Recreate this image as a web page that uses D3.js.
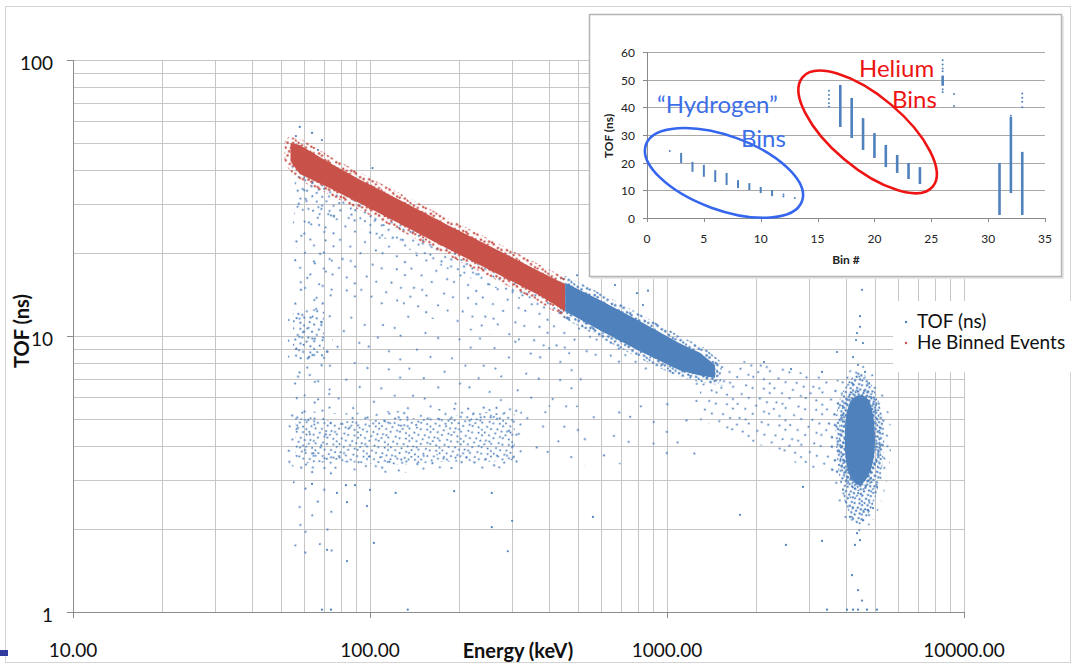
<!DOCTYPE html>
<html>
<head>
<meta charset="utf-8">
<script src="https://cdn.jsdelivr.net/npm/d3@7"></script>
<style>
  html, body { margin: 0; padding: 0; background: #fff; }
  svg { display: block; font-family: Lato, "Open Sans", sans-serif; }
</style>
</head>
<body>
<script>
// ---------- values ----------
// main chart: Energy (keV) vs TOF (ns), log/log
const energyTicks = [10, 100, 1000, 10000];
const tofTicks = [1, 10, 100];

// He-binned band (red): energy, upper and lower TOF edge
const heE = [54, 58, 73, 92, 126, 186, 274, 374, 454];
const heTop = [50, 49.2, 42.4, 37, 31.1, 25, 20.3, 17.1, 15.4];
const heBottom = [43, 38.6, 34.4, 30.3, 25.5, 20.5, 16.6, 14, 12.3];

// same band above the He cut (blue)
const hiE = [454, 594, 811, 1106, 1291, 1451];
const hiTop = [15.6, 13.5, 11.3, 9.4, 8.7, 7.85];
const hiBottom = [12.3, 10.5, 8.8, 7.5, 7.2, 7.05];

// scatter fan below the band
const fanMidE = [58, 86, 126, 186, 274, 454, 877, 1507];
const fanMidT = [28.6, 25.3, 21.4, 17.3, 14.7, 11.4, 8.5, 6.9];
const fanLowE = [58, 86, 126, 186, 274, 404, 594, 877, 1291, 1630];
const fanLowT = [13.5, 13.5, 12.2, 11.2, 9.9, 8.9, 8.05, 7.2, 6.6, 6.6];

// thin scatter between fan and the 4 ns band
const gapE = [56, 130, 300, 520];
const gapTop = [13.5, 12, 9.9, 8.5];
const gapBottom = [5, 5, 5.2, 5.3];

// low-energy column and the 10 ns clump in it
const colE = [55, 75];
const colTop = [40, 40];
const colBottom = [1.6, 1.6];
const tenE = [55, 70];
const tenTop = [12.5, 12.5];
const tenBottom = [8.2, 8.2];

// 4 ns band, 56 - 307 keV
const lowE = [56, 60, 80, 120, 180, 250, 307];
const lowTop = [5.1, 5.0, 4.9, 5.0, 5.1, 5.3, 5.2];
const lowBottom = [3.6, 3.45, 3.5, 3.4, 3.5, 3.5, 3.55];

// sparse continuation of the 4 ns band
const lowTailE = [307, 600, 1000, 1291];
const lowTailTop = [5.6, 5.6, 5.9, 6.3];
const lowTailBottom = [3.3, 3.4, 3.5, 3.6];

// tail from the band toward the high-energy blob
const tailE = [1291, 2056, 2805, 3822];
const tailTop = [7.85, 8.2, 7.4, 6.9];
const tailBottom = [4.96, 4.03, 3.41, 3.14];

// blob near 4.4 MeV (outline, clockwise)
const blobCoreE = [4467, 4751, 4939, 5015, 4939, 4713, 4432, 4164, 4005, 3972, 4036, 4196];
const blobCoreT = [6.1, 5.9, 5.2, 4.2, 3.5, 3.06, 2.88, 3.06, 3.55, 4.4, 5.3, 5.9];
const blobOuterE = [4467, 4898, 5296, 5378, 5131, 4751, 4397, 4068, 3822, 3707, 3737, 4005];
const blobOuterT = [7.4, 6.6, 5.2, 3.9, 2.8, 2.25, 2.07, 2.34, 3.0, 4.0, 5.4, 6.6];

// single stray events
const strayE = [58, 63.8, 68.9, 102, 56.3, 66.8, 71.7, 83.7, 103, 97.7, 122, 257, 291, 257, 301, 563,
  192, 89, 83, 77.4, 63.8, 83.7, 100, 68.9, 73.9, 134, 3457, 4036, 4230, 4397, 4713, 5094,
  4467, 4467, 4363, 4329, 4571, 3737, 4230, 3326, 4397, 4642, 2121, 2616, 2871, 2515, 3326,
  4363, 4467, 4295, 4130, 4571, 4751, 4939, 4536, 4196, 4397, 4536, 1761, 498, 668, 792, 863, 830];
const strayT = [57.2, 54.4, 51.3, 40.6, 53, 47.2, 1.68, 1.53, 1.78, 2.42, 2.7, 2.03, 1.66, 2.7, 2.14, 2.21,
  2.74, 2.88, 2.88, 2.7, 2.91, 2.5, 2.77, 1.02, 1.02, 1.02, 1.02, 1.02, 1.02, 1.02, 1.02, 1.02,
  11.8, 10.8, 10.25, 9.67, 9.43, 8.75, 8.39, 7.41, 7.85, 7.41, 8.05, 7.59, 2.84, 1.75, 1.81,
  1.93, 1.82, 1.75, 2.21, 2.15, 2.34, 2.38, 14.7, 1.36, 1.2, 1.1, 2.25, 16.6, 15.3, 14.3, 14.6, 12.95];

// inset: TOF per bin
const binNo = [3, 4, 5, 6, 7, 8, 9, 10, 11, 17, 18, 19, 20, 21, 22, 23, 24, 26, 31, 32, 33];
const binLo = [19.9, 16.7, 14.9, 13.0, 11.9, 10.8, 10.1, 9.0, 7.9, 32.9, 28.9, 24.6, 21.7, 18.4, 16.3, 14.1, 12.3, 47.8, 1.1, 9.0, 1.1];
const binHi = [23.5, 20.3, 19.2, 17.3, 16.3, 13.7, 12.6, 11.2, 10.1, 48.1, 43.4, 36.1, 30.7, 26.4, 22.8, 19.9, 18.4, 51.5, 19.9, 36.5, 23.9];
const dotBin = [2, 12, 12, 13, 16, 16, 16, 16, 16, 26, 26, 26, 26, 26, 26, 27, 27, 33, 33, 33, 33, 32];
const dotT = [24.2, 8.5, 7.8, 7.2, 46, 44.5, 43, 41.5, 40.2, 57, 55.5, 54, 53, 46.5, 45.5, 44.8, 40.5, 45, 43.5, 42, 40, 37];
const insetXTicks = [0, 5, 10, 15, 20, 25, 30, 35];
const insetYTicks = [0, 10, 20, 30, 40, 50, 60];

// ---------- drawing ----------
const BLUE = "#4f81bd";
const RED = "#c8524a";
const GRID = "#c6c6c6";
const AXIS = "#8c8c8c";

const svg = d3.select("body").append("svg").attr("width", 1076).attr("height", 664);
const defs = svg.append("defs");

const x = d3.scaleLog().domain([10, 10000]).range([73, 964]);
const y = d3.scaleLog().domain([1, 100]).range([612, 60]);
const px = (v) => Math.round(v) + 0.5;

// speckle tiles to stand in for thousands of overlapping markers
const speck = [[3, 2], [13, 5], [21, 1], [28, 6], [7, 10], [17, 9], [25, 13], [31, 11], [1, 16], [11, 15],
  [19, 19], [28, 18], [5, 22], [14, 23], [23, 24], [30, 27], [9, 28], [18, 30], [26, 31], [2, 30]];
const pattern = (id, color, s, r = 1.05) => {
  const p = defs.append("pattern").attr("id", id)
    .attr("patternUnits", "userSpaceOnUse")
    .attr("width", 32 * s).attr("height", 32 * s)
    .attr("patternTransform", "rotate(-23)");
  p.selectAll("circle").data(speck).join("circle")
    .attr("cx", (d) => d[0] * s).attr("cy", (d) => d[1] * s)
    .attr("r", r).attr("fill", color);
};
pattern("redFringe", RED, 0.62, 1.25);
pattern("blueDense", BLUE, 0.62, 1.25);
pattern("blueBlob", BLUE, 0.55, 1.15);
pattern("blueTen", BLUE, 0.8);
pattern("blueLow", BLUE, 0.72);
pattern("blueLowEdge", BLUE, 1.3);
pattern("blueMid", BLUE, 1.15);
pattern("blueFan", BLUE, 1.7);
pattern("blueTail", BLUE, 1.25);
pattern("blueGap", BLUE, 2.4);
pattern("blueCol", BLUE, 2.1);
pattern("blueSparse", BLUE, 2.8);

defs.append("clipPath").attr("id", "heClip").append("rect")
  .attr("x", 0).attr("y", 0).attr("width", x(heE[heE.length - 1])).attr("height", 664);

// frame of the slide
svg.append("rect").attr("x", 5.5).attr("y", 6.5).attr("width", 1065).attr("height", 656)
  .attr("fill", "none").attr("stroke", "#d4d4d4");
svg.append("rect").attr("x", 0).attr("y", 650).attr("width", 8).attr("height", 6).attr("fill", "#2f3a9e");

// grid
const grid = svg.append("g");
grid.selectAll(".gx").data(x.ticks()).join("line").attr("class", "gx")
  .attr("x1", (d) => px(x(d))).attr("x2", (d) => px(x(d)))
  .attr("y1", y(100)).attr("y2", y(1))
  .attr("stroke", GRID);
grid.selectAll(".gy").data(y.ticks()).join("line").attr("class", "gy")
  .attr("x1", x(10)).attr("x2", x(10000))
  .attr("y1", (d) => px(y(d))).attr("y2", (d) => px(y(d)))
  .attr("stroke", GRID);

// data regions
const zip3 = (a, b, c) => a.map((e, i) => [e, b[i], c[i]]);
const band = d3.area().x((d) => x(d[0])).y0((d) => y(d[1])).y1((d) => y(d[2]));
const poly = d3.line().x((d) => x(d[0])).y((d) => y(d[1]));
const blobLine = d3.line().x((d) => x(d[0])).y((d) => y(d[1])).curve(d3.curveCatmullRomClosed);

const marks = svg.append("g");
const region = (d, fill, stroke, sw) => marks.append("path").attr("d", d)
  .attr("fill", fill).attr("stroke", stroke || "none").attr("stroke-width", sw || 0)
  .attr("stroke-linejoin", "round");

const bandUnder = heE.map((e, i) => [e, heBottom[i]])
  .concat(hiE.slice(1).map((e, i) => [e, hiBottom[i + 1]]));
const fanPoly = bandUnder.concat(fanLowE.map((e, i) => [e, fanLowT[i]]).reverse());
const midPoly = bandUnder.concat(fanMidE.map((e, i) => [e, fanMidT[i]]).reverse());

region(band(zip3(gapE, gapTop, gapBottom)), "url(#blueGap)");
region(band(zip3(colE, colTop, colBottom)), "url(#blueCol)");
region(band(zip3(lowTailE, lowTailTop, lowTailBottom)), "url(#blueSparse)");
region(poly(fanPoly) + "Z", "url(#blueFan)");
region(poly(midPoly) + "Z", "url(#blueMid)");
region(band(zip3(tailE, tailTop, tailBottom)), "url(#blueTail)");
region(band(zip3(lowE, lowTop, lowBottom)), "url(#blueLow)", "url(#blueLowEdge)", 16);
region(band(zip3(tenE, tenTop, tenBottom)), "url(#blueTen)", "url(#blueCol)", 10);
region(blobLine(blobOuterE.map((e, i) => [e, blobOuterT[i]])), "url(#blueBlob)", "url(#blueTail)", 14);
region(band(zip3(hiE, hiTop, hiBottom)), BLUE, "url(#blueDense)", 13);
region(blobLine(blobCoreE.map((e, i) => [e, blobCoreT[i]])), BLUE, "url(#blueDense)", 12);

marks.selectAll(".stray").data(strayE.map((e, i) => [e, strayT[i]])).join("circle")
  .attr("class", "stray")
  .attr("cx", (d) => x(d[0])).attr("cy", (d) => y(d[1])).attr("r", 1.1).attr("fill", BLUE);

region(band(zip3(heE, heTop, heBottom)), RED, "url(#redFringe)", 12)
  .attr("clip-path", "url(#heClip)");

// axes
const axes = svg.append("g").attr("stroke", AXIS).attr("stroke-width", 1);
axes.append("line").attr("x1", px(x(10))).attr("x2", px(x(10)))
  .attr("y1", y(100)).attr("y2", y(1) + 1);
axes.append("line").attr("x1", x(10) - 6).attr("x2", x(10000))
  .attr("y1", px(y(1))).attr("y2", px(y(1)));
axes.selectAll(".ty").data(tofTicks).join("line")
  .attr("x1", x(10) - 6).attr("x2", x(10))
  .attr("y1", (d) => px(y(d))).attr("y2", (d) => px(y(d)));
axes.selectAll(".tx").data(energyTicks).join("line")
  .attr("x1", (d) => px(x(d))).attr("x2", (d) => px(x(d)))
  .attr("y1", y(1)).attr("y2", y(1) + 6);

const labels = svg.append("g").attr("fill", "#111").attr("font-size", 19);
labels.selectAll(".ly").data(tofTicks).join("text")
  .attr("x", 53).attr("y", (d) => y(d) + 10).attr("text-anchor", "end")
  .text((d) => d);
labels.selectAll(".lx").data(energyTicks).join("text")
  .attr("x", (d) => x(d)).attr("y", 657).attr("text-anchor", "middle")
  .text(d3.format(".2f"));
svg.append("text").attr("x", 518).attr("y", 658).attr("text-anchor", "middle")
  .attr("font-size", 20).attr("font-weight", "bold").attr("fill", "#111")
  .text("Energy (keV)");
svg.append("text").attr("transform", "translate(29,331) rotate(-90)").attr("text-anchor", "middle")
  .attr("font-size", 20).attr("font-weight", "bold").attr("fill", "#111")
  .text("TOF (ns)");

// legend
const legend = svg.append("g");
legend.append("rect").attr("x", 893).attr("y", 301).attr("width", 183).attr("height", 71).attr("fill", "#fff");
const legendItems = [["TOF (ns)", BLUE], ["He Binned Events", RED]];
legend.selectAll("circle").data(legendItems).join("circle")
  .attr("cx", 906).attr("cy", (d, i) => 322 + i * 21).attr("r", 1.2).attr("fill", (d) => d[1]);
legend.selectAll("text").data(legendItems).join("text")
  .attr("x", 917).attr("y", (d, i) => 328 + i * 21).attr("font-size", 19).attr("fill", "#111")
  .text((d) => d[0]);

// ---------- inset ----------
const inset = svg.append("g");
inset.append("rect").attr("x", 591).attr("y", 16).attr("width", 473).attr("height", 263).attr("fill", "#e8e8e8");
inset.append("rect").attr("x", 589.5).attr("y", 14.5).attr("width", 472).attr("height", 262)
  .attr("fill", "#fff").attr("stroke", "#b4b4b4").attr("stroke-width", 1.5);

const ix = d3.scaleLinear().domain([0, 35]).range([647, 1045]);
const iy = d3.scaleLinear().domain([0, 60]).range([218, 52]);

inset.selectAll(".igy").data(insetYTicks.slice(1)).join("line")
  .attr("x1", ix(0)).attr("x2", ix(35)).attr("y1", (d) => px(iy(d))).attr("y2", (d) => px(iy(d)))
  .attr("stroke", "#a9a9a9");
inset.append("line").attr("x1", ix(0)).attr("x2", ix(35)).attr("y1", px(iy(0))).attr("y2", px(iy(0)))
  .attr("stroke", "#8a8a8a");
inset.append("line").attr("x1", px(ix(0))).attr("x2", px(ix(0))).attr("y1", iy(60)).attr("y2", iy(0))
  .attr("stroke", "#8a8a8a");
inset.selectAll(".itx").data(insetXTicks).join("line")
  .attr("x1", (d) => px(ix(d))).attr("x2", (d) => px(ix(d))).attr("y1", iy(0)).attr("y2", iy(0) + 4)
  .attr("stroke", "#8a8a8a");
inset.selectAll(".ity").data(insetYTicks).join("line")
  .attr("x1", ix(0) - 4).attr("x2", ix(0)).attr("y1", (d) => px(iy(d))).attr("y2", (d) => px(iy(d)))
  .attr("stroke", "#8a8a8a");

inset.selectAll(".ily").data(insetYTicks).join("text")
  .attr("x", 635).attr("y", (d) => iy(d) + 5).attr("text-anchor", "end")
  .attr("font-size", 12).attr("fill", "#222").text((d) => d);
inset.selectAll(".ilx").data(insetXTicks).join("text")
  .attr("x", (d) => ix(d)).attr("y", 243).attr("text-anchor", "middle")
  .attr("font-size", 12).attr("fill", "#222").text((d) => d);
inset.append("text").attr("x", 846).attr("y", 264).attr("text-anchor", "middle")
  .attr("font-size", 12).attr("font-weight", "bold").attr("fill", "#222").text("Bin #");
inset.append("text").attr("transform", "translate(613,136) rotate(-90)").attr("text-anchor", "middle")
  .attr("font-size", 12).attr("font-weight", "bold").attr("fill", "#222").text("TOF (ns)");

inset.selectAll(".bar").data(binNo.map((b, i) => [b, binLo[i], binHi[i]])).join("line")
  .attr("x1", (d) => ix(d[0])).attr("x2", (d) => ix(d[0]))
  .attr("y1", (d) => iy(d[1])).attr("y2", (d) => iy(d[2]))
  .attr("stroke", BLUE).attr("stroke-width", (d) => (d[0] < 15 ? 2 : 2.6));
inset.selectAll(".idot").data(dotBin.map((b, i) => [b, dotT[i]])).join("circle")
  .attr("cx", (d) => ix(d[0])).attr("cy", (d) => iy(d[1])).attr("r", 1).attr("fill", BLUE);

// annotations on the inset
const rings = [
  { bin: 6.77, tof: 16.3, rx: 83, ry: 37, rot: 20, color: "#3566ee" },
  { bin: 19.4, tof: 31.1, rx: 85, ry: 36, rot: 40, color: "#ee1414" },
];
inset.selectAll(".ring").data(rings).join("ellipse")
  .attr("transform", (d) => `translate(${ix(d.bin)},${iy(d.tof)}) rotate(${d.rot})`)
  .attr("rx", (d) => d.rx).attr("ry", (d) => d.ry)
  .attr("fill", "none").attr("stroke", (d) => d.color).attr("stroke-width", 2.6);

const notes = [
  ["\u201CHydrogen\u201D", 657, 113, "#3d6fe8"],
  ["Bins", 741, 147, "#3d6fe8"],
  ["Helium", 859, 77, "#ee1414"],
  ["Bins", 892, 108, "#ee1414"],
];
inset.selectAll(".note").data(notes).join("text")
  .attr("x", (d) => d[1]).attr("y", (d) => d[2]).attr("font-size", 24)
  .attr("fill", (d) => d[3]).text((d) => d[0]);
</script>
</body>
</html>
